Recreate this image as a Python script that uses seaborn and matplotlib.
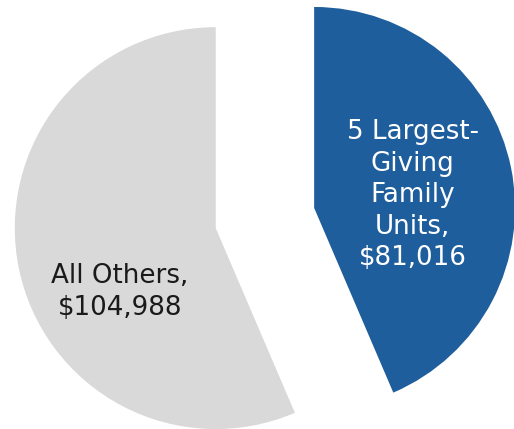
import matplotlib
matplotlib.use("Agg")
import matplotlib.pyplot as plt
import seaborn as sns

sns.set_theme(style="white")
plt.rcParams["font.family"] = ["DejaVu Sans"]

categories = ["5 Largest-\nGiving\nFamily\nUnits,", "All Others,"]
values = [81016, 104988]
colors = ["#1F5E9C", "#D9D9D9"]
text_colors = ["white", "#1A1A1A"]

fig = plt.figure(figsize=(5.14, 4.29), dpi=100)
ax = fig.add_axes([0, 0, 1, 1])

wedges, _ = ax.pie(
    values,
    colors=colors,
    startangle=90,
    counterclock=False,
    explode=[0.25, 0.25],
    radius=1.0,
    wedgeprops=dict(linewidth=0),
)

label_pos = [(0.736, 0.114), (-0.721, -0.368)]
for cat, val, (x, y), tc in zip(categories, values, label_pos, text_colors):
    ax.text(x, y, f"{cat}\n${val:,}", ha="center", va="center",
            color=tc, fontsize=18.8, linespacing=1.27)

ax.set_xlim(-1.318, 1.239)
ax.set_ylim(-1.050, 1.085)
ax.set_aspect("equal")
ax.axis("off")

fig.savefig("out.png", dpi=100, facecolor="white")
